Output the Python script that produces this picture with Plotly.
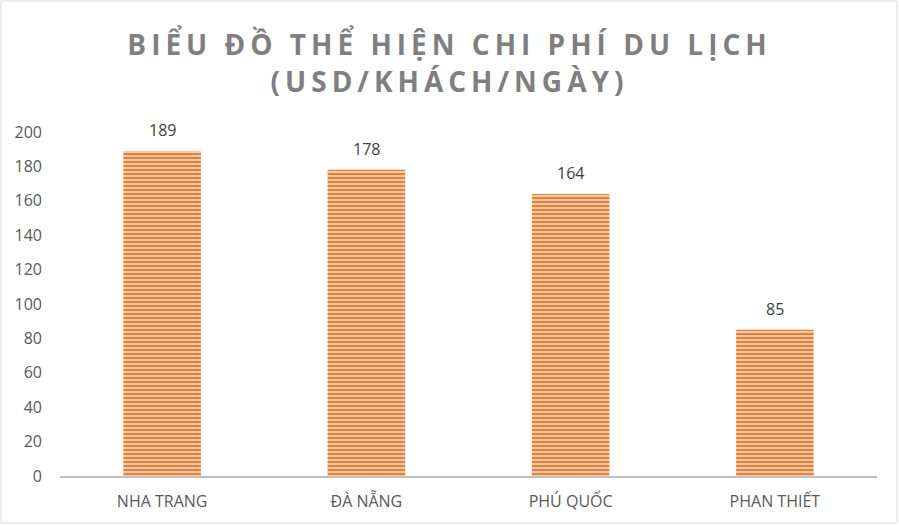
import plotly.graph_objects as go

cities = ["NHA TRANG", "ĐÀ NẴNG", "PHÚ QUỐC", "PHAN THIẾT"]
costs = [189, 178, 164, 85]
y_ticks = [0, 20, 40, 60, 80, 100, 120, 140, 160, 180, 200]

fig = go.Figure()
fig.add_trace(go.Bar(
    x=cities, y=costs,
    marker=dict(
        color="#ED7D31",
        line=dict(width=0),
        pattern=dict(shape="-", fgcolor="#ED7D31", bgcolor="#F8CBAD",
                     size=4, solidity=0.5, fillmode="replace"),
    ),
))

# nhãn giá trị trên đầu cột
for c, v in zip(cities, costs):
    fig.add_annotation(x=c, y=v, text=str(v), showarrow=False,
                       yanchor="bottom", yshift=8,
                       font=dict(size=16, color="#404040", family="Open Sans"))

# khung viền của biểu đồ
pw, ph = 817, 344
fig.add_shape(type="rect", xref="paper", yref="paper",
              x0=-59 / pw, x1=1 + 20 / pw, y0=-47 / ph, y1=1 + 131 / ph,
              line=dict(color="#D9D9D9", width=1), fillcolor="rgba(0,0,0,0)")

fig.update_layout(
    width=899, height=525,
    margin=dict(l=60, r=22, t=132, b=49),
    paper_bgcolor="white", plot_bgcolor="white",
    bargap=0.62,
    showlegend=False,
    title=dict(
        text="BIỂU ĐỒ THỂ HIỆN CHI PHÍ DU LỊCH<br>(USD/KHÁCH/NGÀY)",
        x=0.5, xanchor="center", y=0.895, yanchor="top",
        font=dict(family="Open Sans", size=28, color="#7F7F7F", weight="bold"),
    ),
    font=dict(family="Open Sans", color="#595959"),
)
fig.update_xaxes(showline=True, linecolor="#BFBFBF", linewidth=1.5,
                 tickfont=dict(size=16, color="#595959"), ticks="",
                 ticklabelstandoff=10)
fig.update_yaxes(range=[0, 200], tickvals=y_ticks, showgrid=False,
                 zeroline=False, showline=False,
                 tickfont=dict(size=16, color="#595959"), ticklabelstandoff=17)

js = """
document.body.style.margin = '0';
var t = document.querySelector('.gtitle');
if (t) { t.style.letterSpacing = '5px'; t.setAttribute('x', parseFloat(t.getAttribute('x')) + 2.5); }
"""
fig.write_html("out.html", post_script=js, config={"displayModeBar": False})
